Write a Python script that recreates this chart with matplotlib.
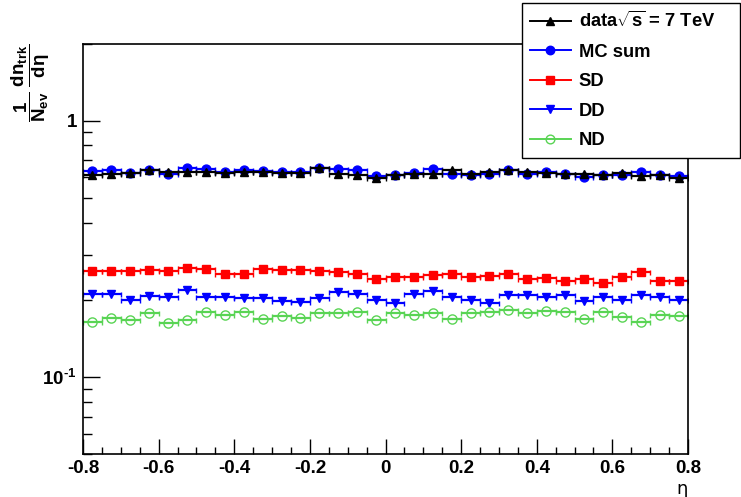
#Recreating the ROOT style dN/deta plot with matplotlib
import numpy as np
import matplotlib
matplotlib.use("Agg")
import matplotlib.pyplot as plt
from matplotlib.lines import Line2D
from matplotlib.ticker import FixedLocator, NullFormatter

plt.rcParams["font.family"] = ["Liberation Sans", "DejaVu Sans"]
plt.rcParams["mathtext.fontset"] = "custom"
plt.rcParams["mathtext.rm"] = "Liberation Sans:bold"
plt.rcParams["mathtext.it"] = "Liberation Sans:bold"
plt.rcParams["mathtext.bf"] = "Liberation Sans:bold"
plt.rcParams["mathtext.default"] = "rm"

#Bin edges of eta (32 bins of 0.05)
eta_edges = np.linspace(-0.8, 0.8, 33)
eta = 0.5 * (eta_edges[:-1] + eta_edges[1:])
half_width = 0.5 * np.diff(eta_edges)

#Values, one per bin
data_7tev = [0.615, 0.621, 0.624, 0.641, 0.630, 0.628, 0.633, 0.624, 0.633, 0.633, 0.624, 0.624,
             0.654, 0.621, 0.611, 0.597, 0.611, 0.621, 0.621, 0.639, 0.619, 0.628, 0.641, 0.630,
             0.624, 0.619, 0.619, 0.615, 0.624, 0.606, 0.615, 0.597]
mc_sum = [0.635, 0.641, 0.624, 0.644, 0.621, 0.654, 0.650, 0.630, 0.639, 0.635, 0.628, 0.628,
          0.654, 0.650, 0.641, 0.606, 0.615, 0.624, 0.648, 0.621, 0.615, 0.619, 0.644, 0.621,
          0.630, 0.619, 0.600, 0.615, 0.615, 0.628, 0.615, 0.606]
sd = [0.258, 0.258, 0.258, 0.261, 0.258, 0.266, 0.264, 0.251, 0.253, 0.264, 0.261, 0.261,
      0.260, 0.257, 0.251, 0.241, 0.245, 0.245, 0.249, 0.251, 0.245, 0.248, 0.251, 0.240,
      0.243, 0.236, 0.240, 0.233, 0.245, 0.256, 0.237, 0.236]
dd = [0.210, 0.211, 0.199, 0.206, 0.205, 0.218, 0.205, 0.205, 0.203, 0.203, 0.197, 0.196,
      0.203, 0.214, 0.210, 0.200, 0.195, 0.211, 0.216, 0.205, 0.199, 0.194, 0.208, 0.208,
      0.205, 0.208, 0.197, 0.205, 0.199, 0.208, 0.205, 0.200]
nd = [0.164, 0.170, 0.167, 0.178, 0.162, 0.166, 0.179, 0.174, 0.179, 0.168, 0.173, 0.170,
      0.177, 0.178, 0.179, 0.167, 0.177, 0.174, 0.178, 0.168, 0.177, 0.179, 0.182, 0.177,
      0.181, 0.179, 0.168, 0.179, 0.172, 0.164, 0.175, 0.173]

x_ticks = [-0.8, -0.6, -0.4, -0.2, 0.0, 0.2, 0.4, 0.6, 0.8]
x_tick_labels = ["-0.8", "-0.6", "-0.4", "-0.2", "0", "0.2", "0.4", "0.6", "0.8"]
y_ticks = [0.1, 1.0]
y_tick_labels = [r"$10^{\text{-1}}$", "1"]

green = "#59d454"

#(values, label, marker, color, face, size)
series = [
    (mc_sum, "MC sum", "o", "#0000ff", "#0000ff", 6.4),
    (sd, "SD", "s", "#ff0000", "#ff0000", 5.8),
    (dd, "DD", "v", "#0000ff", "#0000ff", 6.4),
    (nd, "ND", "o", green, "none", 6.6),
    (data_7tev, r"data$\sqrt{s}$ = 7 TeV", "^", "black", "black", 6.4),
]

fig = plt.figure(figsize=(7.41, 4.97), dpi=100)
ax = fig.add_axes([83 / 741, 1 - 454 / 497, 605 / 741, 410.5 / 497])

for vals, lab, mk, col, face, ms in series:
    ax.errorbar(eta, vals, xerr=half_width, fmt=mk, color=col, mfc=face, mec=col, ms=ms,
                mew=1.0, elinewidth=1.6, capsize=1.8, capthick=1.4, zorder=3 if lab.startswith("data") else 2)

ax.set_yscale("log")
ax.set_xlim(-0.8, 0.8)
ax.set_ylim(0.05, 2.0)

ax.xaxis.set_major_locator(FixedLocator(x_ticks))
ax.set_xticklabels(x_tick_labels)
ax.xaxis.set_minor_locator(FixedLocator(eta_edges))
ax.yaxis.set_major_locator(FixedLocator(y_ticks))
ax.set_yticklabels(y_tick_labels)
ax.yaxis.set_minor_locator(FixedLocator([0.05, 0.06, 0.07, 0.08, 0.09, 0.2, 0.3, 0.4, 0.5, 0.6, 0.7, 0.8, 0.9, 2.0]))
ax.yaxis.set_minor_formatter(NullFormatter())

ax.tick_params(axis="both", which="both", direction="in", top=False, right=False, colors="black")
ax.tick_params(axis="x", which="major", length=10.5, width=1.0, pad=4.5, labelsize=13.5)
ax.tick_params(axis="x", which="minor", length=5, width=1.0)
ax.tick_params(axis="y", which="major", length=12, width=1.0, pad=4.5, labelsize=13.5)
ax.tick_params(axis="y", which="minor", length=6.5, width=1.0)
for lbl in ax.get_xticklabels() + ax.get_yticklabels():
    lbl.set_fontweight("bold")
for sp in ax.spines.values():
    sp.set_linewidth(1.2)

#Axis titles placed like ROOT does (at the end of the axis)
ax.text(1.0, -0.063, "η", transform=ax.transAxes, ha="right", va="top", fontsize=13,
        family=["DejaVu Sans"])
ax.text(-0.087, 1.0, r"$\dfrac{1}{N_{ev}}\;\dfrac{dn_{trk}}{d\eta}$", transform=ax.transAxes,
        rotation=90, ha="center", va="top", fontsize=13.5)

#Legend in the ROOT box at the top right
handles = []
for vals, lab, mk, col, face, ms in [series[4]] + series[:4]:
    handles.append(Line2D([], [], color=col, marker=mk, mfc=face, mec=col, ms=ms * 0.95,
                          lw=1.4, label=lab))
leg = fig.legend(handles=handles, loc="upper left", bbox_to_anchor=(522 / 741, 1 - 155 / 497, 218 / 741, 152 / 497),
                 mode="expand", borderaxespad=0, fancybox=False, framealpha=1, edgecolor="black",
                 prop={"weight": "bold", "size": 13.2}, handlelength=2.2, handletextpad=0.45,
                 borderpad=0.45, labelspacing=0.68)
leg.get_frame().set_linewidth(1.0)

fig.savefig("out.png", dpi=100)
